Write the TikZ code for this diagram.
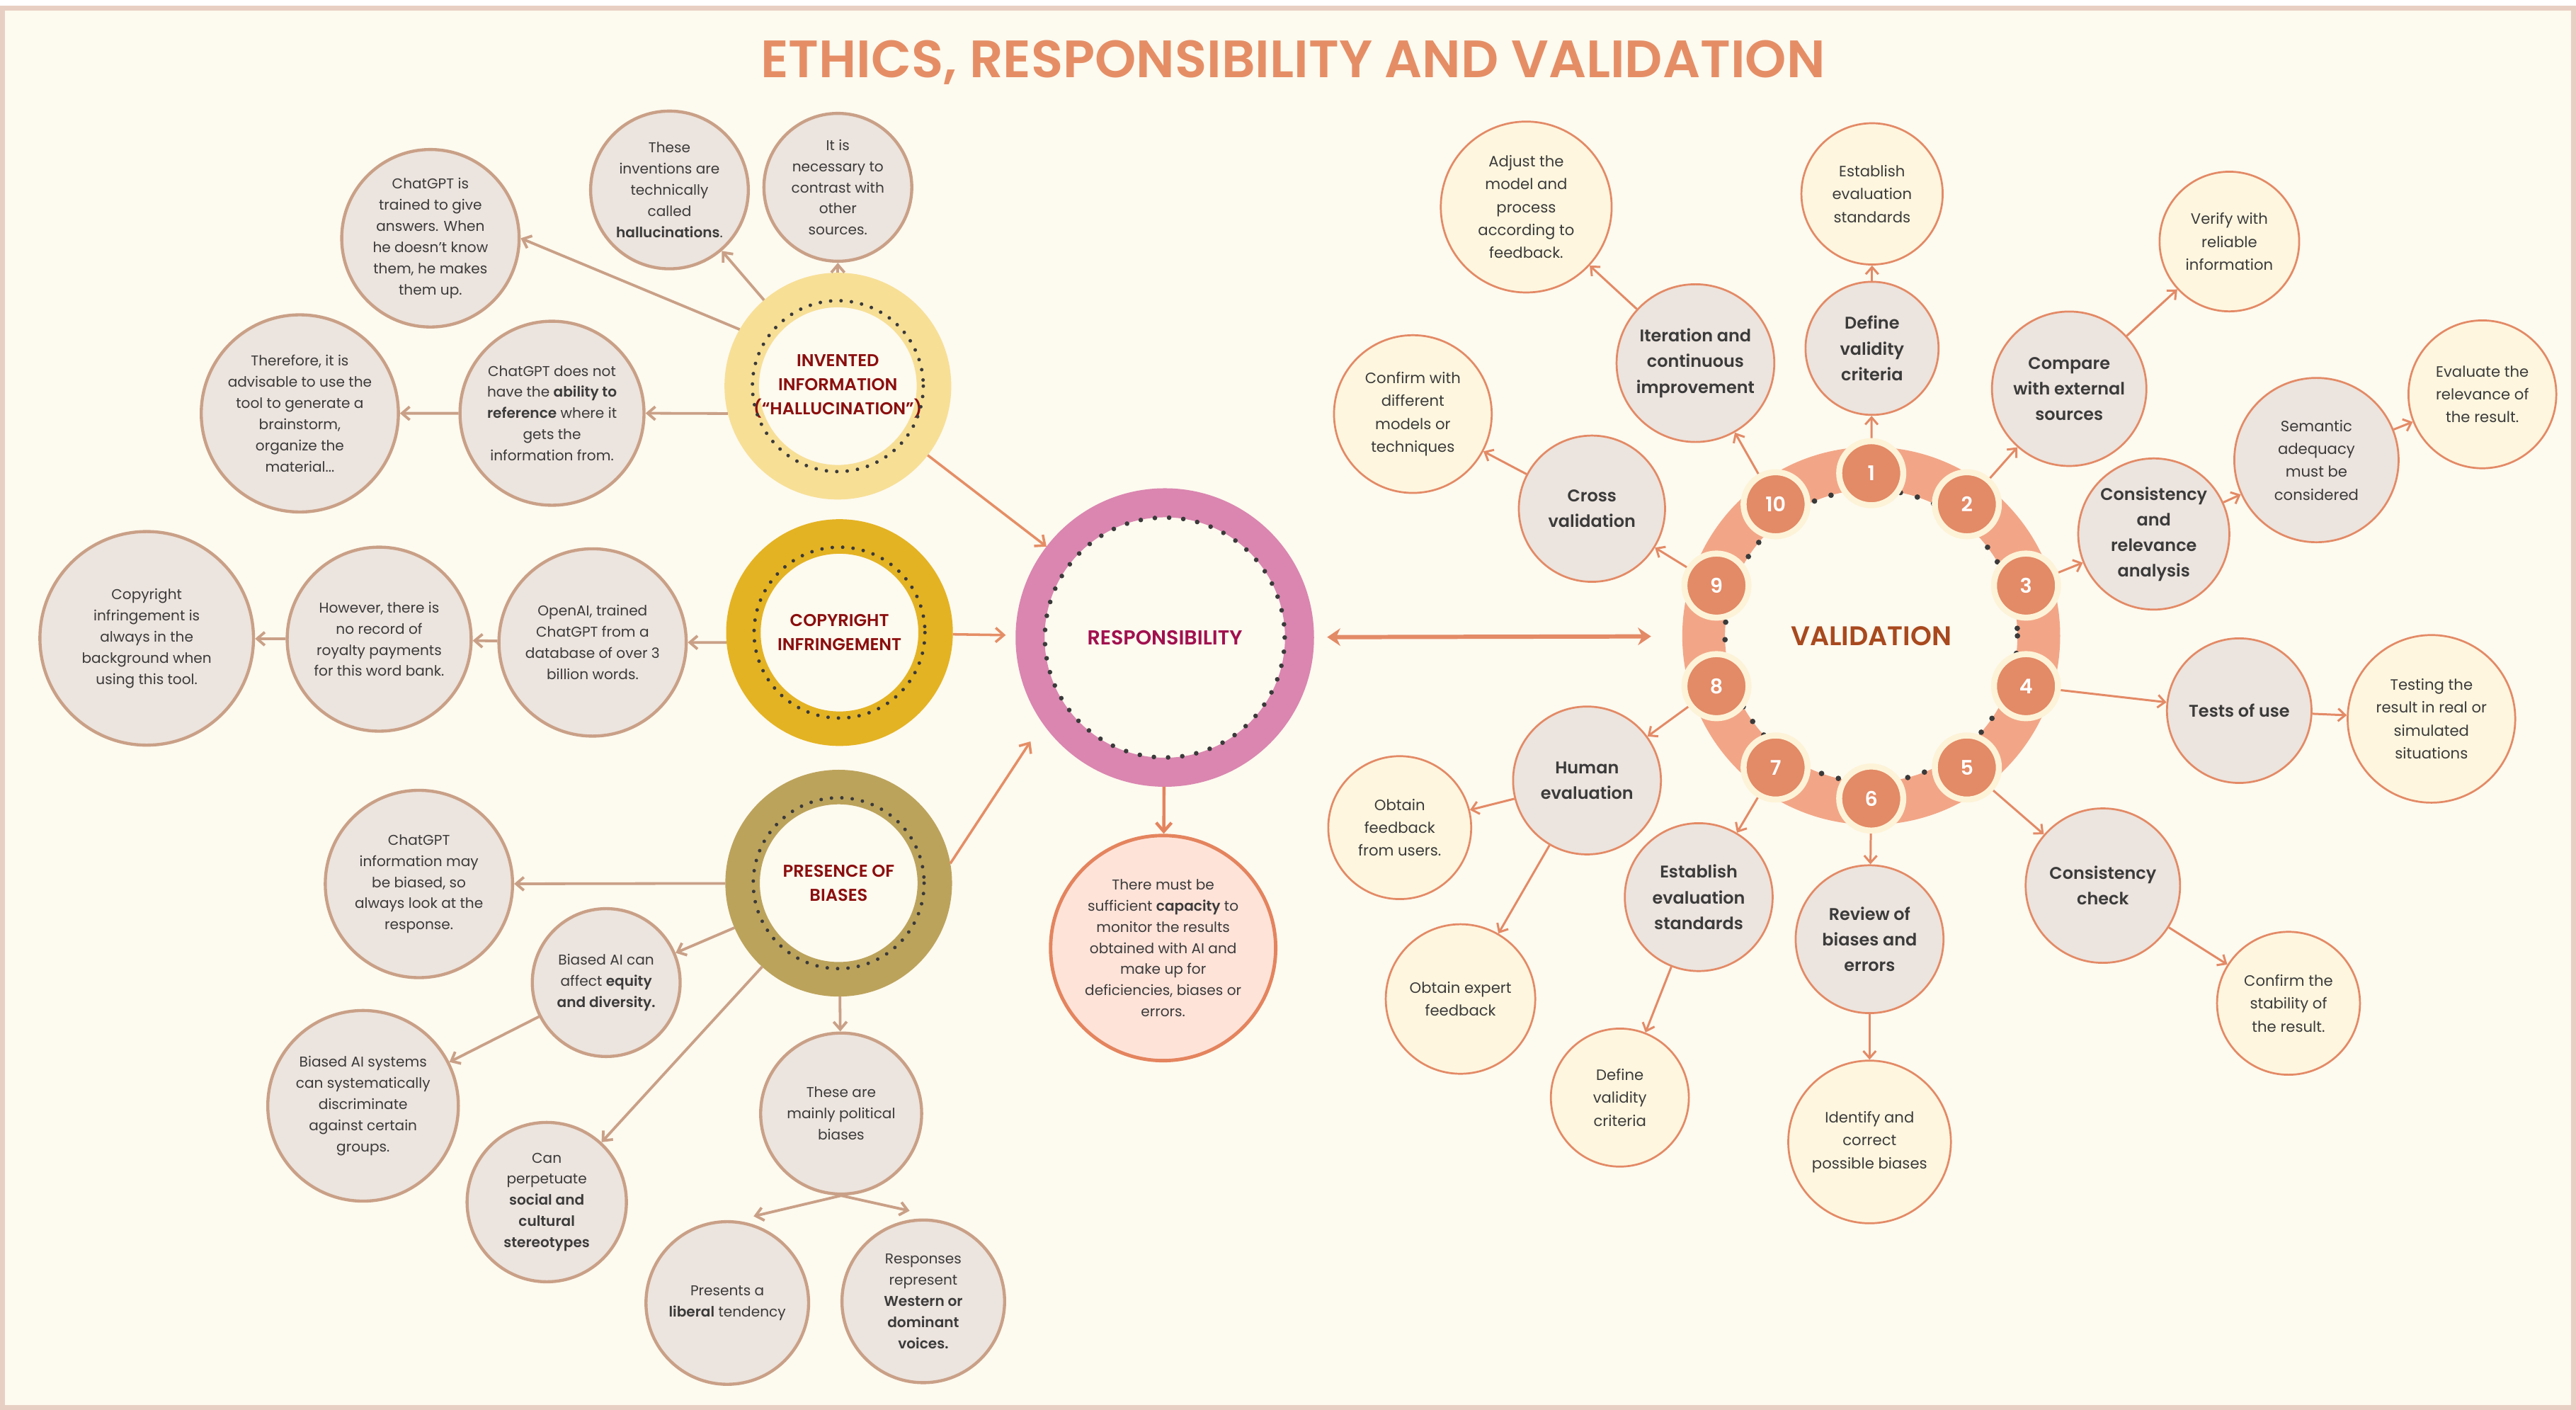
\documentclass[tikz,border=0pt]{standalone}
\usepackage{fontspec}
\setmainfont{Poppins}[BoldFont={* SemiBold}]
\usepackage{xcolor}
\usepackage{tikz}
\usetikzlibrary{arrows.meta}

\definecolor{papercol}{HTML}{FDFAEF}
\definecolor{framecol}{HTML}{E8CFC3}
\definecolor{titlecol}{HTML}{E58E66}
\definecolor{inkcol}{HTML}{3B3B3B}
\definecolor{dotink}{HTML}{3A3A3A}
\definecolor{hubred}{HTML}{8B0E0E}
\definecolor{yellowring}{HTML}{F7DF96}
\definecolor{goldring}{HTML}{E4B323}
\definecolor{olivering}{HTML}{BCA35C}
\definecolor{pinkring}{HTML}{DA86B0}
\definecolor{resptext}{HTML}{A1104F}
\definecolor{greyfill}{HTML}{ECE4DE}
\definecolor{tanline}{HTML}{C9A087}
\definecolor{pinkfill}{HTML}{FEE3D9}
\definecolor{coral}{HTML}{E4845E}
\definecolor{salmon}{HTML}{E38A66}
\definecolor{valring}{HTML}{F2A687}
\definecolor{numring}{HTML}{FDF3D8}
\definecolor{leaffill}{HTML}{FEF6DF}
\definecolor{valtext}{HTML}{A8491E}

\begin{document}
\begin{tikzpicture}[x=0.3mm, y=-0.3mm,
        rad/.style={minimum size=#1*0.6mm},
        greybub/.style={circle, draw=tanline, line width=1.6pt, fill=greyfill, text=inkcol,
            align=center, inner sep=0pt, font=\fontsize{7.4}{11}\selectfont},
        stepbub/.style={circle, draw=salmon, line width=1pt, fill=greyfill, text=inkcol,
            align=center, inner sep=0pt, font=\fontsize{8.8}{13.3}\selectfont\bfseries},
        leafbub/.style={circle, draw=salmon, line width=1pt, fill=leaffill, text=inkcol,
            align=center, inner sep=0pt, font=\fontsize{7.8}{11.9}\selectfont},
        hub/.style={circle, draw=#1, line width=6.3mm, fill=papercol, text=hubred, align=center,
            inner sep=0pt, rad=58.5, font=\fontsize{8.9}{12.5}\selectfont\bfseries},
        num/.style={circle, fill=salmon, draw=numring, line width=1.1mm, rad=19.5,
            inner sep=0pt, text=white, font=\fontsize{10.5}{12}\selectfont\bfseries},
        dots/.style={draw=dotink, line cap=round, dash pattern=on 0pt off #1},
        tanarrow/.style={draw=tanline, line width=1.4pt, -{Straight Barb[length=1.4mm,width=2.4mm]}},
        salarrow/.style={draw=salmon, line width=1.1pt, -{Straight Barb[length=1.3mm,width=2.3mm]}},
        toresp/.style={draw=titlecol, line width=1.3pt, -{Straight Barb[length=1.5mm,width=2.6mm]}},
    ]
    \useasboundingbox (0,0) rectangle (1568,858);
    \fill[white] (0,0) rectangle (1568,858);
    \draw[framecol, line width=0.9mm, fill=papercol] (1.5,5) rectangle (1566.5,856.5);

    % Title
    \node[text=titlecol, font=\fontsize{27.3}{30}\selectfont\bfseries] (title) at (787,38)
        {ETHICS, RESPONSIBILITY AND VALIDATION};

    % Left hubs
    \node[hub=yellowring] (inv) at (510,235) {INVENTED\\INFORMATION\\(“HALLUCINATION”)};
    \node[hub=goldring] (cop) at (511,385) {COPYRIGHT\\INFRINGEMENT};
    \node[hub=olivering] (bia) at (510.5,537.5) {PRESENCE OF\\BIASES};
    \draw[dots=1.9mm, line width=0.65mm] (inv.center) circle[radius=52];
    \draw[dots=1.9mm, line width=0.65mm] (cop.center) circle[radius=52];
    \draw[dots=1.9mm, line width=0.65mm] (bia.center) circle[radius=52];

    % Invented information
    \node[greybub, rad=54] (hal1) at (262,145) {ChatGPT is\\trained to give\\answers. When\\he doesn't know\\them, he makes\\them up.};
    \node[greybub, rad=48] (hal2) at (407.5,115.6) {These\\inventions are\\technically\\called\\\textbf{hallucinations}.};
    \node[greybub, rad=45] (hal3) at (510,114) {It is\\necessary to\\contrast with\\other\\sources.};
    \node[greybub, rad=56] (hal4) at (336,251.5) {ChatGPT does not\\have the \textbf{ability to}\\\textbf{reference} where it\\gets the\\information from.};
    \node[greybub, rad=60] (hal5) at (182.5,251.6) {Therefore, it is\\advisable to use the\\tool to generate a\\brainstorm,\\organize the\\material...};
    \draw[tanarrow] (inv.150) -- (hal1.east);
    \draw[tanarrow] (inv) -- (hal2);
    \draw[tanarrow] (inv) -- (hal3);
    \draw[tanarrow] (inv.194) -- (hal4.east);
    \draw[tanarrow] (hal4) -- (hal5);

    % Copyright infringement
    \node[greybub, rad=57] (cop1) at (360.7,391) {OpenAI, trained\\ChatGPT from a\\database of over 3\\billion words.};
    \node[greybub, rad=56] (cop2) at (230.8,389) {However, there is\\no record of\\royalty payments\\for this word bank.};
    \node[greybub, rad=65] (cop3) at (89.3,388.5) {Copyright\\infringement is\\always in the\\background when\\using this tool.};
    \draw[tanarrow] (cop.185) -- (cop1.east);
    \draw[tanarrow] (cop1) -- (cop2);
    \draw[tanarrow] (cop2) -- (cop3);

    % Presence of biases
    \node[greybub, rad=57] (bia1) at (255,538) {ChatGPT\\information may\\be biased, so\\always look at the\\response.};
    \node[greybub, rad=45] (bia2) at (369,598) {Biased AI can\\affect \textbf{equity}\\\textbf{and diversity.}};
    \node[greybub, rad=58] (bia3) at (221,673) {Biased AI systems\\can systematically\\discriminate\\against certain\\groups.};
    \node[greybub, rad=48.5] (bia4) at (332.8,731.6) {Can\\perpetuate\\\textbf{social and}\\\textbf{cultural}\\\textbf{stereotypes}};
    \node[greybub, rad=49] (bia5) at (512,677.7) {These are\\mainly political\\biases};
    \node[greybub, rad=49.5] (bia6) at (442.7,793) {Presents a\\\textbf{liberal} tendency};
    \node[greybub, rad=49.5] (bia7) at (562,792) {Responses\\represent\\\textbf{Western or}\\\textbf{dominant}\\\textbf{voices.}};
    \draw[tanarrow] (bia) -- (bia1);
    \draw[tanarrow] (bia) -- (bia2);
    \draw[tanarrow] (bia2) -- (bia3);
    \draw[tanarrow] (bia) -- (bia4);
    \draw[tanarrow] (bia) -- (bia5);
    \draw[tanarrow] (bia5.south) -- ([xshift=4.8mm,yshift=0.7mm]bia6.north);
    \draw[tanarrow] (bia5.south) -- ([xshift=-2.5mm,yshift=1.4mm]bia7.north);

    % Responsibility
    \node[circle, draw=pinkring, line width=5.3mm, fill=papercol, rad=82, text=resptext,
        font=\fontsize{10.5}{12}\selectfont\bfseries] (resp) at (709,388) {RESPONSIBILITY};
    \draw[dots=2.6mm, line width=0.85mm] (resp.center) circle[radius=73];
    \node[circle, draw=coral, line width=1.8pt, fill=pinkfill, rad=68.5, text=inkcol, align=center,
        inner sep=0pt, font=\fontsize{7.4}{11}\selectfont] (need) at (708,577)
        {There must be\\sufficient \textbf{capacity} to\\monitor the results\\obtained with AI and\\make up for\\deficiencies, biases or\\errors.};
    \draw[toresp] (inv) -- (resp);
    \draw[toresp, shorten >=1.8mm] (cop) -- (resp);
    \draw[toresp, shorten >=4mm] (bia.10) -- (resp.215);
    \draw[draw=coral, line width=1.6pt, -{Straight Barb[length=1.6mm,width=2.8mm]}] (resp) -- (need);

    % Validation ring
    \node[circle, draw=valring, line width=7.8mm, fill=papercol, rad=102, text=valtext,
        font=\fontsize{14}{16}\selectfont\bfseries] (val) at (1139,387) {VALIDATION};
    \draw[dots=3.2mm, line width=1mm] (val.center) circle[radius=89];
    \draw[draw=salmon, line width=2.2pt, {Stealth[length=2.4mm,width=3.2mm]}-{Stealth[length=2.4mm,width=3.2mm]},
        shorten <=2.4mm, shorten >=5.7mm] (resp) -- (val);
    \node[num] (n1) at (1139,288) {1};
    \node[num] (n2) at (1197.2,306.9) {2};
    \node[num] (n3) at (1233.2,356.4) {3};
    \node[num] (n4) at (1233.2,417.6) {4};
    \node[num] (n5) at (1197.2,467.1) {5};
    \node[num] (n6) at (1139,486) {6};
    \node[num] (n7) at (1080.8,467.1) {7};
    \node[num] (n8) at (1044.8,417.6) {8};
    \node[num] (n9) at (1044.8,356.4) {9};
    \node[num] (n10) at (1080.8,306.9) {10};

    % Validation steps
    \node[stepbub, rad=40.5] (s1) at (1139.5,212) {Define\\validity\\criteria};
    \node[leafbub, rad=43] (l1) at (1139.5,118) {Establish\\evaluation\\standards};
    \node[stepbub, rad=47] (s2) at (1259.5,236.6) {Compare\\with external\\sources};
    \node[leafbub, rad=42.5] (l2) at (1357,147) {Verify with\\reliable\\information};
    \node[stepbub, rad=46] (s3) at (1311,325) {Consistency\\and\\relevance\\analysis};
    \node[greybub, draw=salmon, line width=1pt, font=\fontsize{7.8}{11.9}\selectfont, rad=50] (l3) at (1410,280) {Semantic\\adequacy\\must be\\considered};
    \node[leafbub, rad=45] (l3b) at (1511,240) {Evaluate the\\relevance of\\the result.};
    \node[stepbub, rad=44] (s4) at (1363,432.5) {Tests of use};
    \node[leafbub, rad=51] (l4) at (1480,437.5) {Testing the\\result in real or\\simulated\\situations};
    \node[stepbub, rad=47] (s5) at (1280,539) {Consistency\\check};
    \node[leafbub, rad=43.5] (l5) at (1393,610.6) {Confirm the\\stability of\\the result.};
    \node[stepbub, rad=45] (s6) at (1138,571.6) {Review of\\biases and\\errors};
    \node[leafbub, rad=49.5] (l6) at (1138,695) {Identify and\\correct\\possible biases};
    \node[stepbub, rad=45] (s7) at (1034,546) {Establish\\evaluation\\standards};
    \node[leafbub, rad=42] (l7) at (986,668) {Define\\validity\\criteria};
    \node[stepbub, rad=45] (s8) at (966,475) {Human\\evaluation};
    \node[leafbub, rad=43.5] (l8) at (852,503.7) {Obtain\\feedback\\from users.};
    \node[leafbub, rad=45.5] (l8b) at (889,608) {Obtain expert\\feedback};
    \node[stepbub, rad=44.5] (s9) at (969,309.6) {Cross\\validation};
    \node[leafbub, rad=48] (l9) at (860,252) {Confirm with\\different\\models or\\techniques};
    \node[stepbub, rad=48] (s10) at (1032,221) {Iteration and\\continuous\\improvement};
    \node[leafbub, rad=52] (l10) at (929,126) {Adjust the\\model and\\process\\according to\\feedback.};

    % Validation arrows
    \draw[salarrow] (n1) -- (s1);
    \draw[salarrow] (s1) -- (l1);
    \draw[salarrow] (n2) -- (s2);
    \draw[salarrow] (s2) -- (l2);
    \draw[salarrow] (n3) -- (s3);
    \draw[salarrow] (s3) -- (l3);
    \draw[salarrow] (l3) -- (l3b);
    \draw[salarrow] (n4) -- (s4);
    \draw[salarrow] (s4) -- (l4);
    \draw[salarrow] (n5) -- (s5);
    \draw[salarrow] (s5) -- (l5);
    \draw[salarrow] (n6) -- (s6);
    \draw[salarrow] (s6) -- (l6);
    \draw[salarrow] (n7) -- (s7);
    \draw[salarrow] (s7) -- (l7);
    \draw[salarrow] (n8) -- (s8);
    \draw[salarrow] (s8) -- (l8);
    \draw[salarrow] (s8) -- (l8b);
    \draw[salarrow] (n9) -- (s9);
    \draw[salarrow] (s9) -- (l9);
    \draw[salarrow] (n10) -- (s10);
    \draw[salarrow] (s10) -- (l10);
\end{tikzpicture}
\end{document}
